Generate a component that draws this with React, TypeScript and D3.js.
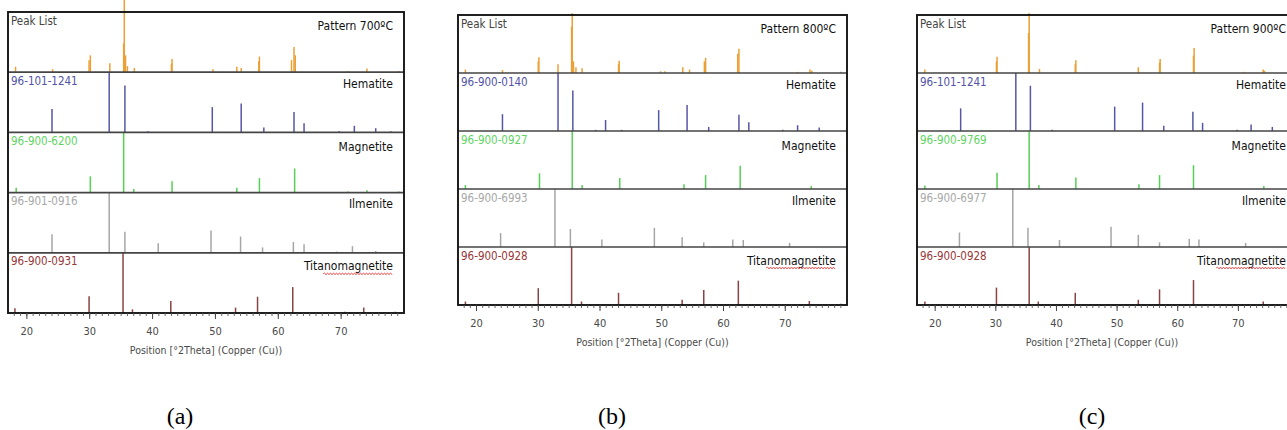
import React from "react";
import * as d3 from "d3";

// ---------- data ----------
const xDomain = [17, 80];
const xMajorTicks = [20, 30, 40, 50, 60, 70];
const xMinorTicks = d3.range(18, 80, 1);
const rowNames = ["Peak List", "Hematite", "Magnetite", "Ilmenite", "Titanomagnetite"];
const patternTitles = ["Pattern 700ºC", "Pattern 800ºC", "Pattern 900ºC"];
const panelLabels = ["(a)", "(b)", "(c)"];
const axisTitle = "Position [°2Theta] (Copper (Cu))";

const codes700 = ["96-101-1241", "96-900-6200", "96-901-0916", "96-900-0931"];
const codes800 = ["96-900-0140", "96-900-0927", "96-900-6993", "96-900-0928"];
const codes900 = ["96-101-1241", "96-900-9769", "96-900-6977", "96-900-0928"];

// [position °2θ, relative intensity %]
const peaks700 = [[18.2, 9], [24.1, 5], [29.9, 20], [30.1, 28], [33.2, 15], [35.4, 48], [35.5, 120], [35.7, 28], [36.0, 10], [37.1, 7], [43.0, 14], [43.1, 22], [49.6, 5], [53.4, 9], [54.1, 7], [56.9, 18], [57.0, 26], [62.1, 20], [62.5, 42], [62.7, 28], [71.0, 2], [74.1, 6], [79.2, 2]];
const hematite700 = [[24.0, 39], [33.1, 100], [35.6, 78], [39.3, 2], [49.5, 42], [54.1, 48], [57.7, 8], [62.5, 34], [64.1, 15], [69.7, 2], [72.1, 11], [75.5, 7], [77.9, 2]];
const magnetite700 = [[18.3, 8], [30.1, 27], [35.4, 100], [37.0, 6], [43.1, 19], [53.4, 8], [57.0, 24], [62.6, 40], [71.1, 2], [74.1, 4], [79.2, 2]];
const ilmenite700 = [[24.0, 31], [33.1, 100], [35.6, 35], [40.9, 16], [49.3, 37], [54.0, 27], [57.5, 9], [62.4, 18], [64.1, 14], [69.3, 2], [71.8, 11], [75.5, 3]];
const titano700 = [[18.1, 8], [29.9, 28], [35.3, 100], [36.8, 6], [42.9, 20], [53.2, 9], [56.7, 27], [62.3, 43], [70.6, 2], [73.6, 9], [78.6, 2]];

const peaks800 = [[18.2, 6], [24.2, 5], [30.0, 20], [30.1, 27], [33.2, 15], [35.4, 80], [35.5, 103], [35.7, 20], [36.1, 10], [37.1, 8], [43.0, 15], [43.1, 21], [49.8, 3], [50.5, 3], [53.4, 10], [54.5, 6], [56.9, 20], [57.1, 26], [62.3, 33], [62.5, 42], [72.0, 2], [74.0, 6], [74.3, 4], [79.0, 2]];
const hematite800 = [[24.2, 29], [33.2, 100], [35.6, 70], [39.3, 2], [40.9, 19], [43.5, 2], [49.5, 36], [54.1, 45], [57.6, 7], [62.5, 28], [64.1, 15], [69.6, 2], [72.0, 10], [75.5, 6]];
const magnetite800 = [[18.2, 7], [30.2, 27], [35.5, 100], [37.1, 7], [43.2, 19], [53.6, 8], [57.1, 24], [62.7, 40], [74.2, 5]];
const ilmenite800 = [[23.9, 24], [32.7, 100], [35.2, 31], [40.3, 13], [48.8, 33], [53.3, 17], [56.8, 8], [61.5, 13], [63.2, 12], [70.7, 7]];
const titano800 = [[18.2, 6], [30.0, 29], [35.4, 100], [37.0, 6], [43.0, 21], [53.3, 9], [56.8, 26], [62.4, 42], [73.9, 7], [79.0, 2]];

const peaks900 = [[18.3, 6], [30.1, 20], [30.2, 28], [35.4, 69], [35.5, 103], [37.2, 7], [43.1, 15], [43.2, 22], [53.5, 10], [57.0, 18], [57.1, 24], [62.6, 30], [62.7, 43], [71.0, 2], [74.1, 6], [74.3, 4]];
const hematite900 = [[24.2, 39], [33.3, 100], [35.7, 78], [39.3, 2], [49.6, 42], [54.2, 49], [57.7, 9], [62.5, 33], [64.1, 14], [69.8, 2], [72.1, 11], [75.6, 7]];
const magnetite900 = [[18.3, 6], [30.2, 28], [35.5, 100], [37.1, 7], [43.2, 20], [53.6, 8], [57.0, 24], [62.6, 41], [74.2, 5]];
const ilmenite900 = [[24.0, 25], [32.8, 100], [35.3, 33], [40.5, 12], [49.0, 35], [53.5, 21], [57.0, 8], [61.9, 14], [63.5, 13], [71.2, 7]];
const titano900 = [[18.3, 6], [30.1, 30], [35.5, 100], [37.0, 6], [43.1, 21], [53.5, 9], [57.0, 27], [62.6, 43], [74.1, 6]];

const panelData = [
  [peaks700, hematite700, magnetite700, ilmenite700, titano700],
  [peaks800, hematite800, magnetite800, ilmenite800, titano800],
  [peaks900, hematite900, magnetite900, ilmenite900, titano900],
];
const panelCodes = [codes700, codes800, codes900];

// ---------- layout / style ----------
const W = 1287;
const H = 430;
const panelBoxes = [
  { left: 8, right: 404, top: 12, bottom: 313, labelX: 180 },
  { left: 458, right: 847, top: 15, bottom: 305, labelX: 612 },
  { left: 917, right: 1299, top: 15, bottom: 305, labelX: 1092 },
];
const stickColors = ["#eaa035", "#5656a6", "#55cf55", "#a6a6a6", "#884444"];
const codeColors = ["#444", "#5252a8", "#5fd45f", "#a8a8a8", "#983838"];
const titleOffsets = [14, 12, 15, 12, 14];
const uiFont = "'Liberation Sans Narrow', 'DejaVu Sans Condensed', 'Open Sans', sans-serif";

function wavyPath(x0: number, x1: number, y: number) {
  let d = `M${x0},${y}`;
  let up = true;
  for (let x = x0 + 1.5; x <= x1; x += 1.5) {
    d += ` L${x.toFixed(1)},${(y + (up ? -1 : 1)).toFixed(1)}`;
    up = !up;
  }
  return d;
}

function Panel({ idx }: { idx: number }) {
  const box = panelBoxes[idx];
  const data = panelData[idx];
  const codes = panelCodes[idx];
  const x = d3.scaleLinear().domain(xDomain).range([box.left, box.right]);
  const rowH = (box.bottom - box.top) / rowNames.length;
  const rowTop = (i: number) => box.top + i * rowH;
  const labelRight = Math.min(box.right - 11, W - 1);

  return (
    <g>
      {data.map((series, r) => {
        const base = rowTop(r + 1);
        const y = d3.scaleLinear().domain([0, 100]).range([base, rowTop(r)]);
        return (
          <g key={r}>
            {series.map(([p, v], k) => (
              <line key={k} x1={x(p)} x2={x(p)} y1={base} y2={Math.max(0, y(v))}
                stroke={stickColors[r]} strokeWidth={1.5} />
            ))}
          </g>
        );
      })}
      {d3.range(1, rowNames.length).map((i) => (
        <line key={i} x1={box.left} x2={box.right} y1={rowTop(i)} y2={rowTop(i)} stroke="#454545" strokeWidth={1.7} />
      ))}
      <rect x={box.left} y={box.top} width={box.right - box.left} height={box.bottom - box.top}
        fill="none" stroke="#151515" strokeWidth={1.9} />
      {rowNames.map((name, r) => {
        const ty = rowTop(r) + titleOffsets[r];
        const title = r === 0 ? patternTitles[idx] : name;
        return (
          <g key={r}>
            <text x={box.left + 3} y={rowTop(r) + 9} dominantBaseline="middle" fontFamily={uiFont}
              fontSize={11.5} fill={codeColors[r]}>{r === 0 ? "Peak List" : codes[r - 1]}</text>
            <text x={labelRight} y={ty} dominantBaseline="middle" textAnchor="end" fontFamily={uiFont}
              fontSize={12} fill="#111">{title}</text>
            {r === 4 && (
              <path d={wavyPath(labelRight - 70, labelRight, ty + 7)} fill="none" stroke="#e23a3a" strokeWidth={0.8} />
            )}
          </g>
        );
      })}
      {xMinorTicks.map((t) => (
        <line key={"m" + t} x1={x(t)} x2={x(t)} y1={box.bottom} y2={box.bottom + 3} stroke="#555" strokeWidth={0.9} />
      ))}
      {xMajorTicks.map((t) => (
        <g key={"M" + t}>
          <line x1={x(t)} x2={x(t)} y1={box.bottom} y2={box.bottom + 6} stroke="#444" strokeWidth={1} />
          <text x={x(t)} y={box.bottom + 19} textAnchor="middle" dominantBaseline="middle" fontFamily={uiFont}
            fontSize={11} fill="#4a4a4a">{t}</text>
        </g>
      ))}
      <text x={(x(17) + x(80)) / 2 + (idx === 2 ? -6 : 0)} y={box.bottom + 38} textAnchor="middle" dominantBaseline="middle"
        fontFamily={uiFont} fontSize={10.5} fill="#4a4a4a">{axisTitle}</text>
      <text x={box.labelX} y={418} textAnchor="middle" dominantBaseline="middle"
        fontFamily="'Liberation Serif', 'Times New Roman', serif" fontSize={24} fill="#000">{panelLabels[idx]}</text>
    </g>
  );
}

export default function App() {
  return (
    <svg width={W} height={H} style={{ position: "absolute", left: 0, top: 0, background: "#fff" }}>
      <rect width={W} height={H} fill="#fff" />
      {[0, 1, 2].map((i) => <Panel key={i} idx={i} />)}
    </svg>
  );
}
